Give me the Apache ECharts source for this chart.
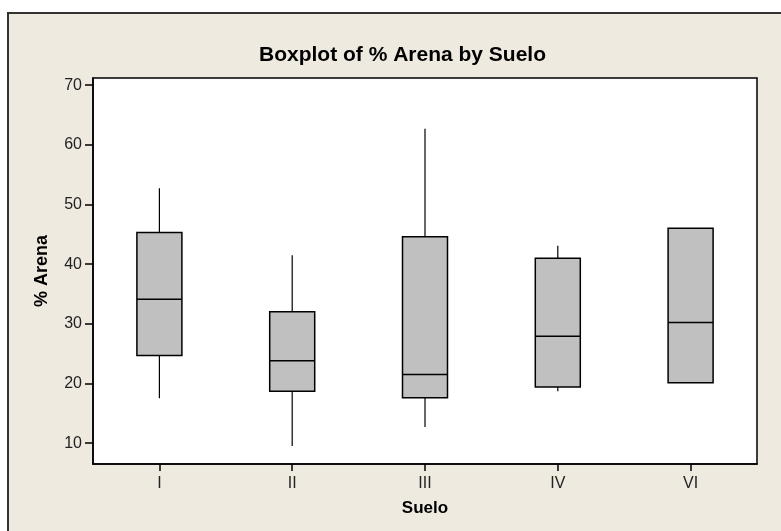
<!DOCTYPE html>
<html>
<head>
<meta charset="utf-8">
<script src="https://cdn.jsdelivr.net/npm/echarts@6/dist/echarts.min.js"></script>
<style>
  html, body { margin: 0; padding: 0; background: #fff; }
  #box { width: 781px; height: 531px; }
</style>
</head>
<body>
<div id="box"></div>
<script>
// categories (Suelo)
var suelos = ['I', 'II', 'III', 'IV', 'VI']
// whisker low / Q1 / median / Q3 / whisker high
var lowVals = [17.5, 9.5, 12.7, 18.7, 20.1]
var q1Vals = [24.7, 18.7, 17.6, 19.4, 20.1]
var medianVals = [34.1, 23.8, 21.5, 27.9, 30.2]
var q3Vals = [45.3, 32.0, 44.6, 41.0, 46.0]
var highVals = [52.7, 41.5, 62.7, 43.1, 46.0]
// y tick labels
var yTicks = [10, 20, 30, 40, 50, 60, 70]

var boxData = suelos.map(function(s, i) {
  return [i, lowVals[i], q1Vals[i], medianVals[i], q3Vals[i], highVals[i]]
})

// Minitab style box: no whisker caps
function renderBox(params, api) {
  var idx = api.value(0)
  var low = api.coord([idx, api.value(1)])
  var q1 = api.coord([idx, api.value(2)])
  var med = api.coord([idx, api.value(3)])
  var q3 = api.coord([idx, api.value(4)])
  var high = api.coord([idx, api.value(5)])
  var half = 22.5
  var x = low[0]
  var line = { stroke: '#000', lineWidth: 1.2 }
  return {
    type: 'group',
    children: [
      { type: 'line', shape: { x1: x, y1: high[1], x2: x, y2: q3[1] }, style: line },
      { type: 'line', shape: { x1: x, y1: q1[1], x2: x, y2: low[1] }, style: line },
      {
        type: 'rect',
        shape: { x: x - half, y: q3[1], width: half * 2, height: q1[1] - q3[1] },
        style: { fill: '#C0C0C0', stroke: '#000', lineWidth: 1.5 }
      },
      { type: 'line', shape: { x1: x - half, y1: med[1], x2: x + half, y2: med[1] }, style: { stroke: '#000', lineWidth: 1.5 } }
    ]
  }
}

var myChart = echarts.init(document.getElementById('box'))
myChart.setOption({
  backgroundColor: '#fff',
  textStyle: { fontFamily: 'Liberation Sans, Arial, sans-serif' },
  graphic: [
    {
      type: 'rect',
      left: 7,
      top: 12,
      shape: { width: 800, height: 560 },
      style: { fill: '#EEEAE0', stroke: '#333', lineWidth: 2 },
      z: -10
    }
  ],
  title: {
    text: 'Boxplot of % Arena by Suelo',
    left: 254,
    top: 40,
    textStyle: { fontSize: 21, fontWeight: 'bold', color: '#000' }
  },
  grid: {
    left: 93,
    top: 78,
    right: 24,
    bottom: 67,
    show: true,
    backgroundColor: '#fff',
    borderColor: '#000',
    borderWidth: 1.5
  },
  xAxis: {
    type: 'category',
    data: suelos,
    name: 'Suelo',
    nameLocation: 'middle',
    nameGap: 36,
    nameTextStyle: { fontSize: 17, fontWeight: 'bold', color: '#000' },
    axisLine: { lineStyle: { color: '#000', width: 1.5 } },
    axisTick: { show: true, alignWithLabel: true, length: 7, lineStyle: { color: '#000', width: 1.5 } },
    axisLabel: { fontSize: 16, color: '#222', margin: 12 }
  },
  yAxis: {
    type: 'value',
    min: 6.5,
    max: 71.2,
    name: '% Arena',
    nameLocation: 'middle',
    nameGap: 42,
    nameTextStyle: { fontSize: 18, fontWeight: 'bold', color: '#000' },
    splitLine: { show: false },
    axisLine: { show: true, lineStyle: { color: '#000', width: 1.5 } },
    axisTick: { show: true, length: 8, customValues: yTicks, lineStyle: { color: '#000', width: 1.5 } },
    axisLabel: { fontSize: 16, color: '#222', margin: 11, customValues: yTicks }
  },
  series: [
    {
      type: 'custom',
      renderItem: renderBox,
      data: boxData,
      encode: { x: 0, y: [1, 2, 3, 4, 5] }
    }
  ]
})
</script>
</body>
</html>
